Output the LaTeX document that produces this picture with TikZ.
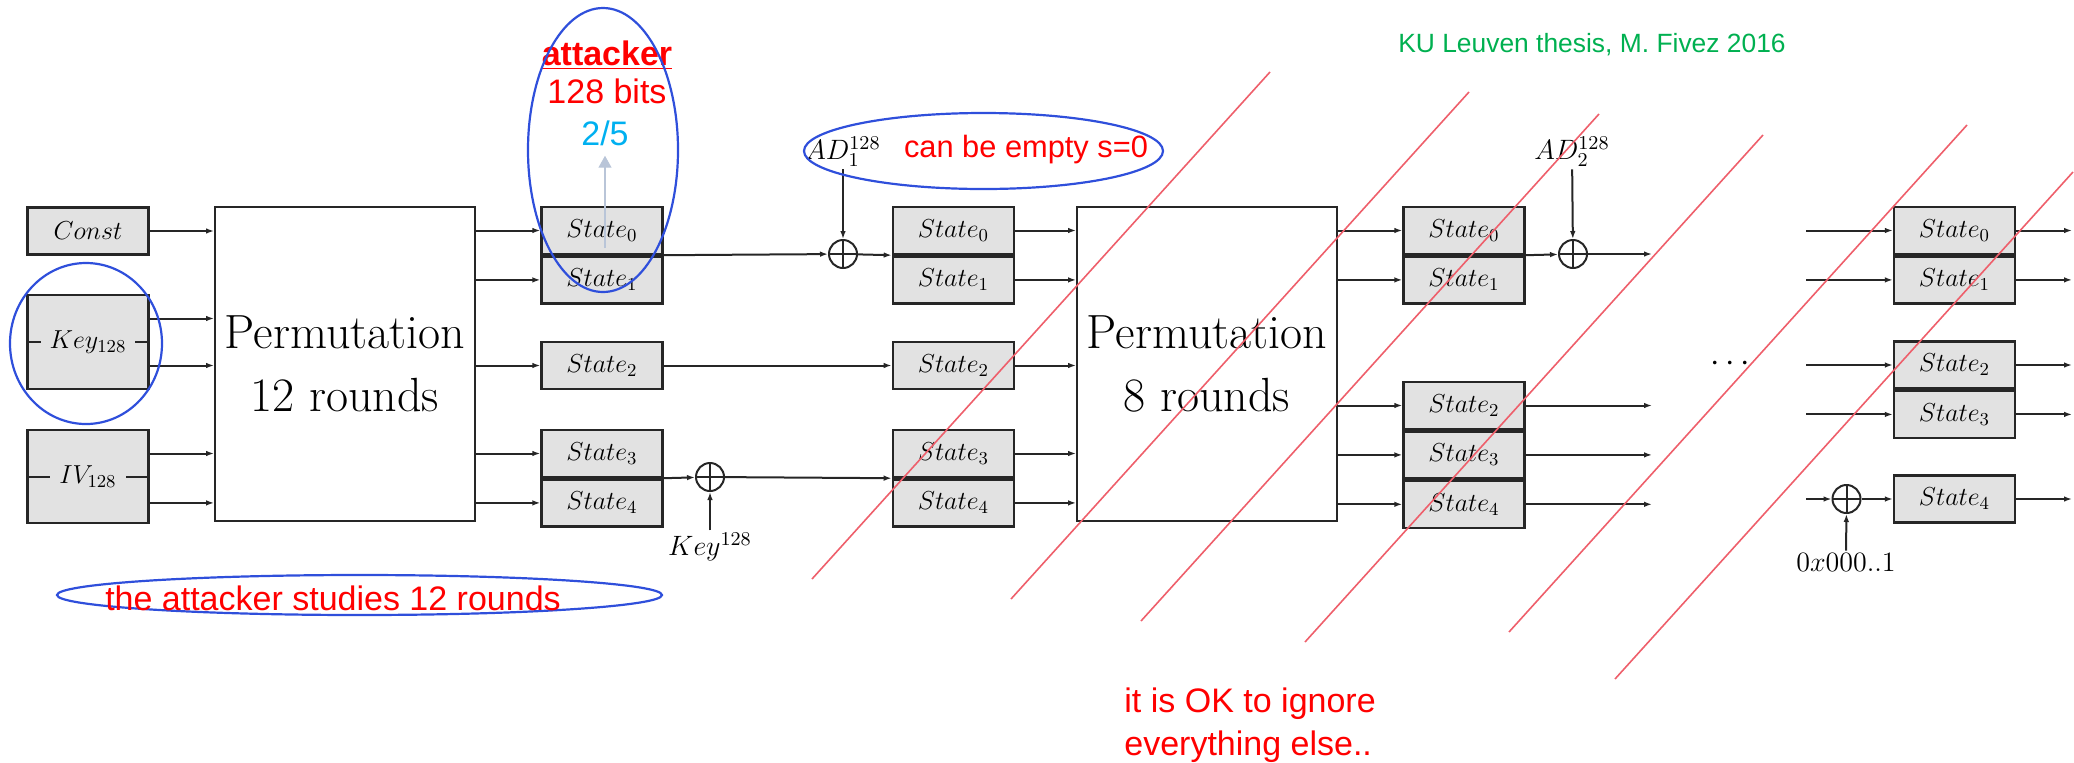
\documentclass[tikz,border=0pt]{standalone}
\usepackage{fix-cm}
\usepackage{fontspec}
\usepackage{tikz}
\usetikzlibrary{arrows.meta, positioning}
\newfontfamily\notefont{Liberation Sans}
\definecolor{boxgray}{HTML}{E2E2E2}
\definecolor{wirecolor}{HTML}{262626}
\definecolor{notered}{HTML}{FF0000}
\definecolor{ringblue}{HTML}{2F4FDB}
\definecolor{fraccyan}{HTML}{00B0F0}
\definecolor{thesisgreen}{HTML}{00B050}
\definecolor{strikered}{HTML}{EE5F6B}
\definecolor{peekcolor}{HTML}{B9C5D8}

\begin{document}
\begin{tikzpicture}[
    x=0.5pt, y=-0.5pt,
    statebox/.style={rectangle, draw=wirecolor, fill=boxgray, line width=1.2pt,
                minimum width=60.5pt, minimum height=23.5pt, inner sep=0pt,
                font=\fontsize{13}{15}\selectfont},
    permbox/.style={rectangle, draw=wirecolor, line width=1.2pt, minimum width=129.75pt,
                minimum height=157pt, align=center, font=\fontsize{24}{31.5}\selectfont},
    xorop/.style={circle, draw=wirecolor, line width=1pt, minimum size=14pt, inner sep=0pt,
                path picture={\draw[wirecolor, line width=1pt]
                    (path picture bounding box.north) -- (path picture bounding box.south)
                    (path picture bounding box.west) -- (path picture bounding box.east);}},
    wire/.style={-{Latex[length=4pt, width=2.8pt]}, wirecolor, line width=1pt},
    lbl/.style={inner sep=1pt, font=\fontsize{14}{17}\selectfont},
    note/.style={text=notered, inner sep=0pt, font=\notefont\fontsize{17}{21.5}\selectfont},
    ring/.style={draw=ringblue, line width=1.1pt},
    strike/.style={strikered, line width=0.8pt},
]
\useasboundingbox (0,0) rectangle (2074,762);

% Inputs
\node[statebox] (const) at (88,231) {$Const$};
\node[statebox, minimum height=47pt] (key) at (88,342) {};
\node[statebox, minimum height=46.5pt] (iv) at (88,476.5) {};
\draw[wirecolor, line width=1pt] (key.west) -- (key.east) (iv.west) -- (iv.east);
\node[fill=boxgray, inner xsep=4.5pt, inner ysep=1pt, font=\fontsize{13}{15}\selectfont] (keyname) at (key) {$Key_{128}$};
\node[fill=boxgray, inner xsep=4.5pt, inner ysep=1pt, font=\fontsize{13}{15}\selectfont] (ivname) at (iv) {$IV_{128}$};

% Permutations
\node[permbox] (perm1) at (345,364) {Permutation\\12 rounds};
\node[permbox] (perm2) at (1207,364) {Permutation\\8 rounds};

% State after initialisation
\node[statebox] (s0a) at (602,230.5) {$State_0$};
\node[statebox, below=0pt of s0a] (s1a) {$State_1$};
\node[statebox] (s2a) at (602,365.5) {$State_2$};
\node[statebox] (s3a) at (602,453.5) {$State_3$};
\node[statebox, below=0pt of s3a] (s4a) {$State_4$};

% State before first AD block
\node[statebox, right=114pt of s0a] (s0b) {$State_0$};
\node[statebox, below=0pt of s0b] (s1b) {$State_1$};
\node[statebox, right=114pt of s2a] (s2b) {$State_2$};
\node[statebox, right=114pt of s3a] (s3b) {$State_3$};
\node[statebox, below=0pt of s3b] (s4b) {$State_4$};

% State after 8 rounds
\node[statebox] (s0c) at (1464,230.5) {$State_0$};
\node[statebox, below=0pt of s0c] (s1c) {$State_1$};
\node[statebox] (s2c) at (1464,405.5) {$State_2$};
\node[statebox, below=0pt of s2c] (s3c) {$State_3$};
\node[statebox, below=0pt of s3c] (s4c) {$State_4$};

% Last state
\node[statebox] (s0d) at (1954.5,230.5) {$State_0$};
\node[statebox, below=0pt of s0d] (s1d) {$State_1$};
\node[statebox] (s2d) at (1954.5,365) {$State_2$};
\node[statebox, below=0pt of s2d] (s3d) {$State_3$};
\node[statebox] (s4d) at (1954.5,499) {$State_4$};
\node[font=\fontsize{17}{20}\selectfont] (dots) at (1730,364) {$\cdots$};

% XOR inputs
\node[xorop] (xa) at (843,254) {};
\node[xorop] (xk) at (710,477) {};
\node[xorop] (xb) at (1573,254) {};
\node[xorop] (xc) at (1846.5,499) {};
\node[lbl] (ad1) at (843,152) {$AD_1^{128}$};
\node[lbl] (keyin) at (710,547) {$Key^{128}$};
\node[lbl] (ad2) at (1572,152) {$AD_2^{128}$};
\node[lbl] (cst) at (1846,562) {$0x000..1$};
\coordinate (kin) at ([yshift=11.75pt]key.east);
\coordinate (endb) at (1652,254);
\coordinate (feed) at (1806,499);
\coordinate (edge) at (2072,0);

% Wires into Perm1
\draw[wire] (const) -- (const -| perm1.west);
\draw[wire] (kin) -- (kin -| perm1.west);
\draw[wire] (key.east |- s2a) -- (perm1.west |- s2a);
\draw[wire] (iv.east |- s3a) -- (perm1.west |- s3a);
\draw[wire] (iv.east |- s4a) -- (perm1.west |- s4a);
\draw[wire] (perm1.east |- s0a) -- (s0a);
\draw[wire] (perm1.east |- s1a) -- (s1a);
\draw[wire] (perm1.east |- s2a) -- (s2a);
\draw[wire] (perm1.east |- s3a) -- (s3a);
\draw[wire] (perm1.east |- s4a) -- (s4a);

% Absorb AD and key
\draw[wire] (s0a.south east) -- (xa);
\draw[wire] (xa) -- (s0b.south west);
\draw[wire] (ad1) -- (xa);
\draw[wire] (s2a) -- (s2b);
\draw[wire] (s3a.south east) -- (xk);
\draw[wire] (xk) -- (s3b.south west);
\draw[wire] (keyin) -- (xk);

% Wires through Perm2
\draw[wire] (s0b) -- (s0b -| perm2.west);
\draw[wire] (s1b) -- (s1b -| perm2.west);
\draw[wire] (s2b) -- (s2b -| perm2.west);
\draw[wire] (s3b) -- (s3b -| perm2.west);
\draw[wire] (s4b) -- (s4b -| perm2.west);
\draw[wire] (perm2.east |- s0c) -- (s0c);
\draw[wire] (perm2.east |- s1c) -- (s1c);
\draw[wire] (perm2.east |- s2c) -- (s2c);
\draw[wire] (perm2.east |- s3c) -- (s3c);
\draw[wire] (perm2.east |- s4c) -- (s4c);
\draw[wire] (s0c.south east) -- (xb);
\draw[wire] (xb) -- (endb);
\draw[wire] (ad2) -- (xb);
\draw[wire] (s2c) -- (s2c -| endb);
\draw[wire] (s3c) -- (s3c -| endb);
\draw[wire] (s4c) -- (s4c -| endb);

% Last block
\draw[wire] (s0d -| feed) -- (s0d);
\draw[wire] (s1d -| feed) -- (s1d);
\draw[wire] (s2d -| feed) -- (s2d);
\draw[wire] (s3d -| feed) -- (s3d);
\draw[wire] (feed) -- (xc);
\draw[wire] (xc) -- (s4d);
\draw[wire] (cst) -- (xc);
\draw[wire] (s0d) -- (s0d -| edge);
\draw[wire] (s1d) -- (s1d -| edge);
\draw[wire] (s2d) -- (s2d -| edge);
\draw[wire] (s3d) -- (s3d -| edge);
\draw[wire] (s4d) -- (s4d -| edge);

% Attacker notes
\node[note, anchor=base] (atk) at (607,65) {\textbf{\underline{attacker}}};
\node[note, anchor=base] (bits) at (607,103) {128 bits};
\node[note, anchor=base, text=fraccyan] (frac) at (605,145) {2/5};
\coordinate (peek) at (605,248);
\draw[-{Triangle[length=6pt, width=6.5pt]}, peekcolor, line width=0.7pt] (peek) -- ([yshift=-5pt]frac.south);
\draw[ring] (603,150) ellipse [x radius=37.5pt, y radius=71pt];
\draw[ring] (86,343.5) ellipse [x radius=38pt, y radius=40.25pt];
\draw[ring] (983.5,151) ellipse [x radius=89.75pt, y radius=19pt];
\draw[ring] (359.5,595) ellipse [x radius=151.25pt, y radius=10pt];
\node[note] (studies) at (333,598) {the attacker studies 12 rounds};
\node[note, font=\notefont\fontsize{15.4}{18}\selectfont] (empty) at (1026,150) {can be empty s=0};
\node[note, align=left, anchor=north west] (ignore) at (1124,687) {it is OK to ignore\\everything else..};
\node[text=thesisgreen, inner sep=0pt, font=\notefont\fontsize{13.2}{16}\selectfont] (credit) at (1592,45) {KU Leuven thesis, M. Fivez 2016};

% Strike-out
\draw[strike] (812,579) -- ++(458,-507);
\draw[strike] (1011,599) -- ++(458,-507);
\draw[strike] (1141,621) -- ++(458,-507);
\draw[strike] (1305,642) -- ++(458,-507);
\draw[strike] (1509,632) -- ++(458,-507);
\draw[strike] (1615,679) -- ++(458,-507);

\end{tikzpicture}
\end{document}
